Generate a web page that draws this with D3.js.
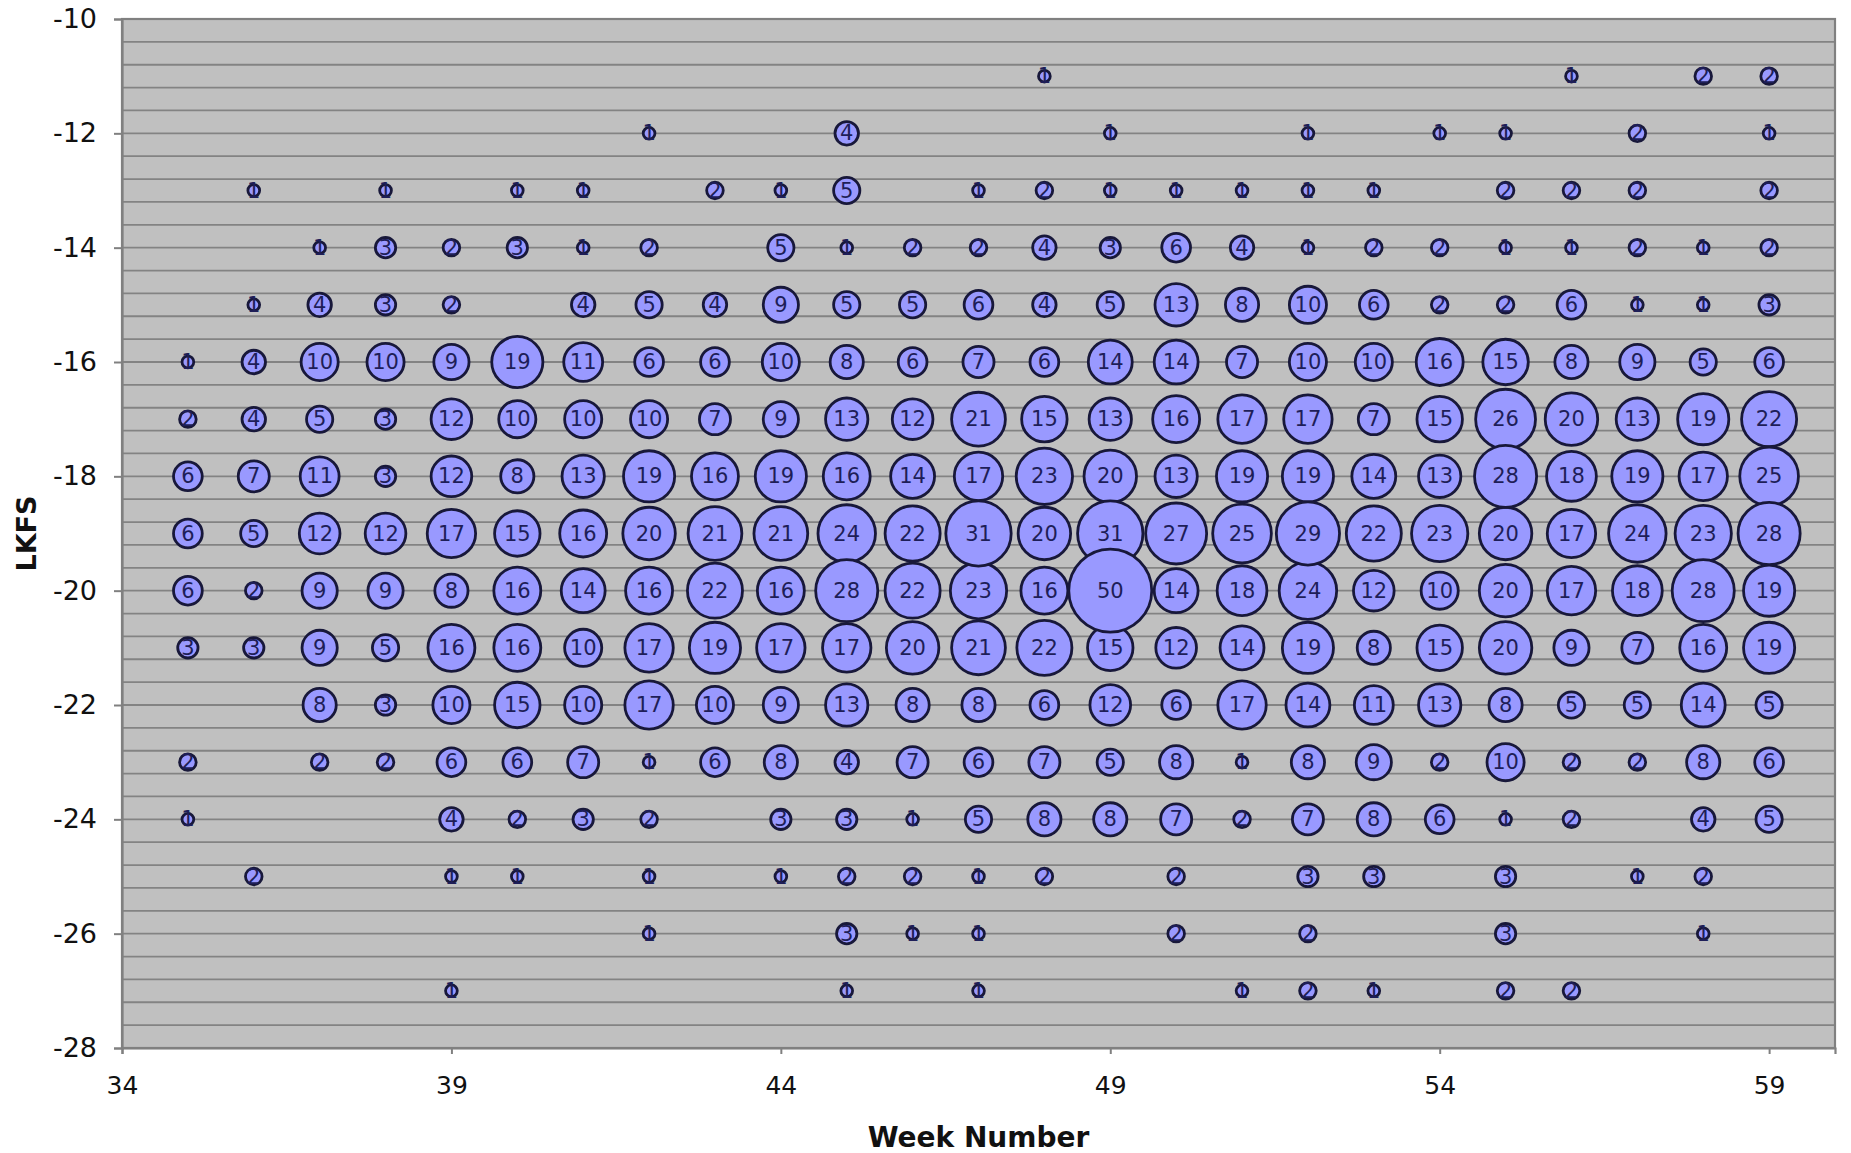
<!DOCTYPE html>
<html>
<head>
<meta charset="utf-8">
<script src="https://cdn.jsdelivr.net/npm/d3@7"></script>
<style>
  html, body { margin: 0; padding: 0; background: #ffffff; }
  svg { display: block; }
</style>
</head>
<body>
<svg id="chart" width="1851" height="1153"></svg>
<script>
// ---------------- DATA ----------------
const weeks = [35,36,37,38,39,40,41,42,43,44,45,46,47,48,49,50,51,52,53,54,55,56,57,58,59];
const lkfsLevels = [-11,-12,-13,-14,-15,-16,-17,-18,-19,-20,-21,-22,-23,-24,-25,-26,-27];
// counts per week (35..59) for each LKFS level; 0 = no bubble
const lkfsM11 = [0,0,0,0,0,0,0,0,0,0,0,0,0,1,0,0,0,0,0,0,0,1,0,2,2];
const lkfsM12 = [0,0,0,0,0,0,0,1,0,0,4,0,0,0,1,0,0,1,0,1,1,0,2,0,1];
const lkfsM13 = [0,1,0,1,0,1,1,0,2,1,5,0,1,2,1,1,1,1,1,0,2,2,2,0,2];
const lkfsM14 = [0,0,1,3,2,3,1,2,0,5,1,2,2,4,3,6,4,1,2,2,1,1,2,1,2];
const lkfsM15 = [0,1,4,3,2,0,4,5,4,9,5,5,6,4,5,13,8,10,6,2,2,6,1,1,3];
const lkfsM16 = [1,4,10,10,9,19,11,6,6,10,8,6,7,6,14,14,7,10,10,16,15,8,9,5,6];
const lkfsM17 = [2,4,5,3,12,10,10,10,7,9,13,12,21,15,13,16,17,17,7,15,26,20,13,19,22];
const lkfsM18 = [6,7,11,3,12,8,13,19,16,19,16,14,17,23,20,13,19,19,14,13,28,18,19,17,25];
const lkfsM19 = [6,5,12,12,17,15,16,20,21,21,24,22,31,20,31,27,25,29,22,23,20,17,24,23,28];
const lkfsM20 = [6,2,9,9,8,16,14,16,22,16,28,22,23,16,50,14,18,24,12,10,20,17,18,28,19];
const lkfsM21 = [3,3,9,5,16,16,10,17,19,17,17,20,21,22,15,12,14,19,8,15,20,9,7,16,19];
const lkfsM22 = [0,0,8,3,10,15,10,17,10,9,13,8,8,6,12,6,17,14,11,13,8,5,5,14,5];
const lkfsM23 = [2,0,2,2,6,6,7,1,6,8,4,7,6,7,5,8,1,8,9,2,10,2,2,8,6];
const lkfsM24 = [1,0,0,0,4,2,3,2,0,3,3,1,5,8,8,7,2,7,8,6,1,2,0,4,5];
const lkfsM25 = [0,2,0,0,1,1,0,1,0,1,2,2,1,2,0,2,0,3,3,0,3,0,1,2,0];
const lkfsM26 = [0,0,0,0,0,0,0,1,0,0,3,1,1,0,0,2,0,2,0,0,3,0,0,1,0];
const lkfsM27 = [0,0,0,0,1,0,0,0,0,0,1,0,1,0,0,0,1,2,1,0,2,2,0,0,0];
const xTickValues = [34,39,44,49,54,59];
const yTickValues = [-10,-12,-14,-16,-18,-20,-22,-24,-26,-28];
const xTitle = "Week Number";
const yTitle = "LKFS";

const countRows = [lkfsM11,lkfsM12,lkfsM13,lkfsM14,lkfsM15,lkfsM16,lkfsM17,lkfsM18,lkfsM19,
                   lkfsM20,lkfsM21,lkfsM22,lkfsM23,lkfsM24,lkfsM25,lkfsM26,lkfsM27];

(function () {
// flatten into points
const points = [];
lkfsLevels.forEach((lv, ri) => {
  countRows[ri].forEach((c, wi) => {
    if (c > 0) points.push({week: weeks[wi], lkfs: lv, count: c});
  });
});
points.sort((a, b) => a.count - b.count);

// ---------------- LAYOUT ----------------
const svg = d3.select("#chart");
const pL = 122, pR = 1835, pT = 19, pB = 1048;
const font = "'DejaVu Sans', Verdana, sans-serif";

const x = d3.scaleLinear().domain([34, 60]).range([pL, pR]);
const y = d3.scaleLinear().domain([-28, -10]).range([pB, pT]);
const r = d3.scaleSqrt().domain([0, 50]).range([0, 41.5]);

svg.append("rect").attr("x", 0).attr("y", 0).attr("width", 1851).attr("height", 1153).attr("fill", "#ffffff");

// plot area
svg.append("rect")
  .attr("x", pL).attr("y", pT)
  .attr("width", pR - pL).attr("height", pB - pT)
  .attr("fill", "#c0c0c0");

// gridlines every 0.4
const gridVals = d3.range(0, 46).map(k => -28 + k * 0.4);
svg.append("g").selectAll("line").data(gridVals).join("line")
  .attr("x1", pL).attr("x2", pR)
  .attr("y1", d => y(d)).attr("y2", d => y(d))
  .attr("stroke", "#838383").attr("stroke-width", 1.8);

// border
svg.append("rect")
  .attr("x", pL).attr("y", pT)
  .attr("width", pR - pL).attr("height", pB - pT)
  .attr("fill", "none").attr("stroke", "#808080").attr("stroke-width", 2.2);

// axes
const yAxis = d3.axisLeft(y).tickValues(yTickValues).tickSize(8).tickPadding(17)
  .tickFormat(d => String(d));
const gy = svg.append("g").attr("transform", `translate(${pL},0)`).call(yAxis);
gy.select(".domain").attr("stroke", "#808080").attr("stroke-width", 2.2);
gy.selectAll(".tick line").attr("stroke", "#808080").attr("stroke-width", 2);
gy.selectAll("text").attr("font-family", font)
  .attr("font-size", 27).attr("fill", "#111");

const xAxis = d3.axisBottom(x).tickValues(xTickValues).tickSize(6).tickPadding(22)
  .tickFormat(d => String(d));
const gx = svg.append("g").attr("transform", `translate(0,${pB})`).call(xAxis);
gx.select(".domain").attr("stroke", "#808080").attr("stroke-width", 2.2);
gx.selectAll(".tick line").attr("stroke", "#808080").attr("stroke-width", 2);
gx.selectAll("text").attr("font-family", font)
  .attr("font-size", 25).attr("fill", "#111");

// bubbles
svg.append("g").selectAll("circle").data(points).join("circle")
  .attr("cx", d => x(d.week))
  .attr("cy", d => y(d.lkfs))
  .attr("r", d => r(d.count))
  .attr("fill", "#9999ff")
  .attr("stroke", "#18183a")
  .attr("stroke-width", 2.8);

// labels
svg.append("g").selectAll("text").data(points).join("text")
  .attr("x", d => x(d.week))
  .attr("y", d => y(d.lkfs))
  .attr("text-anchor", "middle")
  .attr("dominant-baseline", "central")
  .attr("font-family", font)
  .attr("font-size", 21)
  .attr("fill", "#1e1e58")
  .text(d => d.count);

// titles
svg.append("text")
  .attr("transform", `translate(26,${(pT + pB) / 2}) rotate(-90)`)
  .attr("text-anchor", "middle").attr("dominant-baseline", "central")
  .attr("font-family", font)
  .attr("font-weight", "bold").attr("font-size", 27).attr("fill", "#111")
  .text(yTitle);

svg.append("text")
  .attr("x", (pL + pR) / 2).attr("y", 1137)
  .attr("text-anchor", "middle").attr("dominant-baseline", "central")
  .attr("font-family", font)
  .attr("font-weight", "bold").attr("font-size", 28).attr("fill", "#111")
  .text(xTitle);
})();
</script>
</body>
</html>
